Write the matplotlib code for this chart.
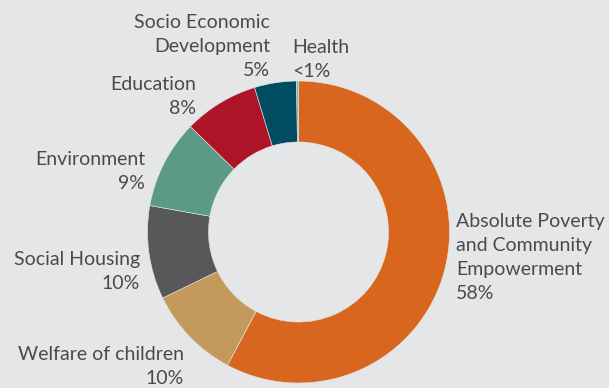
import matplotlib.pyplot as plt

# data
categories = ["Absolute Poverty\nand Community\nEmpowerment", "Welfare of children",
              "Social Housing", "Environment", "Education",
              "Socio Economic\nDevelopment", "Health"]
shares = [57.8, 10.0, 10.0, 9.5, 8.0, 4.5, 0.2]
share_labels = ["58%", "10%", "10%", "9%", "8%", "5%", "<1%"]
colors = ["#D9661F", "#C49A5C", "#58585A", "#5A9A87", "#AD1428", "#004D61", "#8FAAB2"]

BG = "#E5E6E8"
TXT = "#4A4A4A"

fig = plt.figure(figsize=(6.09, 3.88), dpi=100, facecolor=BG)
ax = fig.add_axes([0, 0, 1, 1])
ax.set_facecolor(BG)

ax.pie(shares, colors=colors, startangle=90, counterclock=False,
       center=(298.5, 156), radius=151,
       wedgeprops=dict(width=61, edgecolor=BG, linewidth=0.4))

# pie resets the limits, so set them afterwards
ax.set_xlim(0, 609)
ax.set_ylim(0, 388)
ax.set_aspect("equal")
ax.axis("off")

# label layout: (x, first line centre from top, alignment)
layout = [(456, 219, "left"), (184, 352, "right"), (140, 257, "right"),
          (145, 157, "right"), (196, 82, "right"), (270, 20, "right"),
          (292, 45, "left")]

for cat, lab, (x, y, ha) in zip(categories, share_labels, layout):
    ax.text(x, 388 - y + 6, cat + "\n" + lab, ha=ha, va="top", color=TXT,
            fontsize=14, family="Lato", linespacing=1.5)

fig.savefig("out.png", dpi=100, facecolor=BG)
